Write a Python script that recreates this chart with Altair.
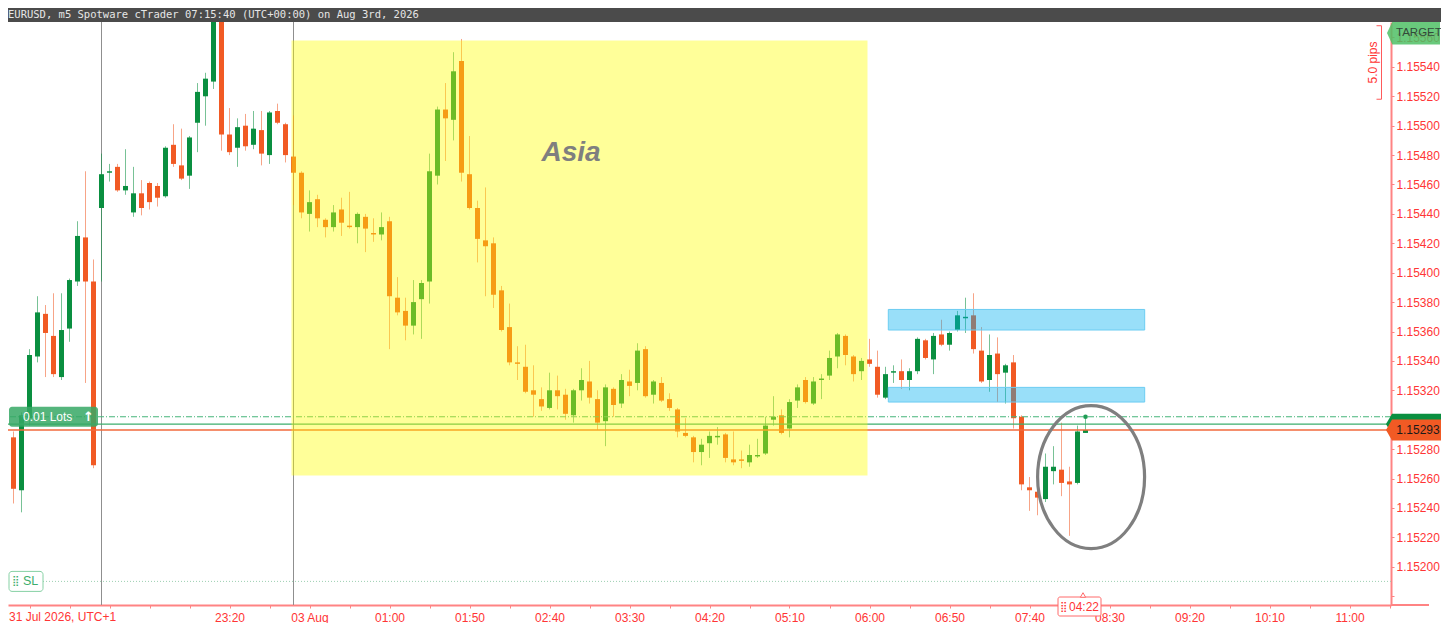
import altair as alt
import pandas as pd

# ---------------- data ----------------
OPEN = [1.15288, 1.15252, 1.15301, 1.15343, 1.15372, 1.15357, 1.15329, 1.15362, 1.15394, 1.15424,
        1.15394, 1.15444, 1.15468, 1.15472, 1.15456, 1.15441, 1.15454, 1.15461, 1.15459, 1.15452,
        1.15487, 1.15473, 1.15466, 1.15502, 1.15520, 1.15530, 1.15573, 1.15494, 1.15485, 1.15500,
        1.15487, 1.15497, 1.15480, 1.15510, 1.15501, 1.15479, 1.15468, 1.15440, 1.15450, 1.15436,
        1.15431, 1.15443, 1.15432, 1.15431, 1.15438, 1.15427, 1.15426, 1.15435, 1.15383, 1.15374,
        1.15364, 1.15382, 1.15394, 1.15466, 1.15511, 1.15504, 1.15544, 1.15467, 1.15444, 1.15422,
        1.15420, 1.15388, 1.15363, 1.15339, 1.15336, 1.15320, 1.15314, 1.15308, 1.15320, 1.15317,
        1.15303, 1.15320, 1.15326, 1.15314, 1.15299, 1.15321, 1.15311, 1.15326, 1.15325, 1.15348,
        1.15317, 1.15325, 1.15314, 1.15307, 1.15291, 1.15288, 1.15278, 1.15284, 1.15288, 1.15290,
        1.15273, 1.15273, 1.15271, 1.15275, 1.15277, 1.15300, 1.15303, 1.15294, 1.15313, 1.15327,
        1.15311, 1.15327, 1.15330, 1.15343, 1.15357, 1.15343, 1.15333, 1.15341, 1.15336, 1.15315,
        1.15332, 1.15333, 1.15327, 1.15333, 1.15354, 1.15341, 1.15358, 1.15351, 1.15361, 1.15369,
        1.15371, 1.15347, 1.15327, 1.15345, 1.15332, 1.15339, 1.15302, 1.15254, 1.15251, 1.15246,
        1.15265, 1.15266, 1.15258, 1.15257, 1.15291]
HIGH = [1.15292, 1.15305, 1.15348, 1.15384, 1.15378, 1.15386, 1.15386, 1.15396, 1.15435, 1.15469,
        1.15409, 1.15481, 1.15474, 1.15474, 1.15484, 1.15472, 1.15463, 1.15462, 1.15461, 1.15486,
        1.15501, 1.15498, 1.15493, 1.15529, 1.15536, 1.15580, 1.15576, 1.15512, 1.15505, 1.15508,
        1.15510, 1.15510, 1.15510, 1.15515, 1.15502, 1.15507, 1.15469, 1.15456, 1.15453, 1.15437,
        1.15446, 1.15451, 1.15455, 1.15441, 1.15440, 1.15437, 1.15441, 1.15438, 1.15397, 1.15383,
        1.15395, 1.15395, 1.15481, 1.15513, 1.15529, 1.15550, 1.15559, 1.15493, 1.15449, 1.15458,
        1.15424, 1.15391, 1.15379, 1.15350, 1.15351, 1.15337, 1.15322, 1.15332, 1.15330, 1.15321,
        1.15321, 1.15335, 1.15340, 1.15320, 1.15324, 1.15322, 1.15331, 1.15334, 1.15352, 1.15350,
        1.15327, 1.15329, 1.15318, 1.15308, 1.15301, 1.15289, 1.15287, 1.15292, 1.15295, 1.15291,
        1.15292, 1.15279, 1.15283, 1.15287, 1.15302, 1.15316, 1.15307, 1.15314, 1.15324, 1.15329,
        1.15329, 1.15331, 1.15347, 1.15359, 1.15358, 1.15344, 1.15342, 1.15355, 1.15347, 1.15336,
        1.15337, 1.15341, 1.15335, 1.15356, 1.15355, 1.15359, 1.15368, 1.15360, 1.15374, 1.15383,
        1.15386, 1.15363, 1.15358, 1.15356, 1.15338, 1.15344, 1.15303, 1.15261, 1.15259, 1.15277,
        1.15282, 1.15298, 1.15268, 1.15296, 1.15303]
LOW = [1.15243, 1.15237, 1.15296, 1.15339, 1.15329, 1.15329, 1.15327, 1.15353, 1.15391, 1.15325,
       1.15267, 1.15394, 1.15462, 1.15455, 1.15453, 1.15438, 1.15439, 1.15443, 1.15445, 1.15451,
       1.15472, 1.15463, 1.15457, 1.15482, 1.15500, 1.15525, 1.15483, 1.15480, 1.15472, 1.15483,
       1.15484, 1.15473, 1.15474, 1.15501, 1.15475, 1.15446, 1.15437, 1.15428, 1.15431, 1.15424,
       1.15428, 1.15425, 1.15430, 1.15420, 1.15414, 1.15421, 1.15422, 1.15348, 1.15371, 1.15354,
       1.15358, 1.15355, 1.15379, 1.15460, 1.15476, 1.15490, 1.15462, 1.15443, 1.15407, 1.15384,
       1.15376, 1.15360, 1.15337, 1.15327, 1.15318, 1.15302, 1.15306, 1.15307, 1.15307, 1.15300,
       1.15298, 1.15313, 1.15311, 1.15293, 1.15282, 1.15302, 1.15308, 1.15316, 1.15320, 1.15315,
       1.15311, 1.15312, 1.15306, 1.15288, 1.15288, 1.15271, 1.15269, 1.15274, 1.15283, 1.15271,
       1.15269, 1.15267, 1.15268, 1.15274, 1.15276, 1.15296, 1.15290, 1.15288, 1.15308, 1.15311,
       1.15310, 1.15314, 1.15327, 1.15335, 1.15337, 1.15326, 1.15327, 1.15336, 1.15315, 1.15314,
       1.15325, 1.15321, 1.15320, 1.15331, 1.15341, 1.15331, 1.15350, 1.15347, 1.15360, 1.15359,
       1.15345, 1.15325, 1.15319, 1.15312, 1.15311, 1.15294, 1.15252, 1.15238, 1.15235, 1.15244,
       1.15256, 1.15248, 1.15221, 1.15256, 1.15291]
CLOSE = [1.15253, 1.15303, 1.15344, 1.15373, 1.15359, 1.15331, 1.15361, 1.15395, 1.15425, 1.15394,
         1.15269, 1.15467, 1.15469, 1.15456, 1.15459, 1.15454, 1.15444, 1.15448, 1.15451, 1.15485,
         1.15474, 1.15464, 1.15492, 1.15523, 1.15532, 1.15575, 1.15494, 1.15482, 1.15499, 1.15486,
         1.15498, 1.15481, 1.15509, 1.15502, 1.15480, 1.15468, 1.15441, 1.15448, 1.15437, 1.15431,
         1.15441, 1.15434, 1.15431, 1.15440, 1.15430, 1.15426, 1.15431, 1.15384, 1.15373, 1.15364,
         1.15380, 1.15393, 1.15469, 1.15511, 1.15505, 1.15537, 1.15468, 1.15444, 1.15423, 1.15418,
         1.15385, 1.15361, 1.15339, 1.15338, 1.15319, 1.15317, 1.15309, 1.15320, 1.15316, 1.15304,
         1.15320, 1.15327, 1.15315, 1.15298, 1.15322, 1.15310, 1.15327, 1.15323, 1.15347, 1.15316,
         1.15326, 1.15313, 1.15308, 1.15292, 1.15289, 1.15278, 1.15283, 1.15289, 1.15289, 1.15274,
         1.15271, 1.15272, 1.15276, 1.15276, 1.15296, 1.15302, 1.15291, 1.15312, 1.15322, 1.15312,
         1.15326, 1.15328, 1.15342, 1.15358, 1.15344, 1.15331, 1.15340, 1.15338, 1.15317, 1.15331,
         1.15333, 1.15327, 1.15333, 1.15355, 1.15342, 1.15357, 1.15351, 1.15359, 1.15371, 1.15370,
         1.15348, 1.15326, 1.15344, 1.15331, 1.15337, 1.15301, 1.15256, 1.15252, 1.15247, 1.15268,
         1.15268, 1.15257, 1.15256, 1.15292, 1.15293]

TICK_BARS = list(range(2, 173, 5))
LABEL_BARS = [27, 37, 47, 57, 67, 77, 87, 97, 107, 117, 127, 137, 147, 157, 167]
LABEL_TEXT = ["23:20", "03 Aug", "01:00", "01:50", "02:40", "03:30", "04:20", "05:10",
              "06:00", "06:50", "07:40", "08:30", "09:20", "10:10", "11:00"]
FIRST_LABEL = "31 Jul 2026, UTC+1"
PRICE_TICKS = [round(1.1518 + 0.0002 * i, 5) for i in range(20)]
SEPARATOR_BARS = [11, 35]

TITLE = "EURUSD, m5 Spotware cTrader 07:15:40 (UTC+00:00) on Aug 3rd, 2026"
BID = 1.15293
ASK = 1.15302
ENTRY = 1.15297
SL_PRICE = 1.15190
TARGET_PRICE = 1.15563
PIPS_TOP, PIPS_BOTTOM = 1.15568, 1.15518
CURRENT_BAR = 134
ASIA = {"x0": 34.75, "x1": 106.75, "top": 1.15558, "bottom": 1.15262}
ZONES = [{"x0": 109.35, "x1": 141.4, "top": 1.15375, "bottom": 1.15361},
         {"x0": 109.35, "x1": 141.4, "top": 1.15322, "bottom": 1.15312}]
ELLIPSE_CENTER = (134.7, 1.15261)

# ---------------- styling ----------------
W, H = 1383, 583
GREEN = "#0A8F40"
RED = "#F15A24"
AXC = "#FF8383"
LBL = "#FF3535"
FONT = "Liberation Sans"

XS = alt.Scale(domain=[-0.6875, 172.1875], nice=False, zero=False, padding=0)
YS = alt.Scale(domain=[1.1517395, 1.1557054], nice=False, zero=False, padding=0)
CS = alt.Scale(domain=["up", "down"], range=[GREEN, RED])

lab_expr = "''"
for kk, tt in reversed(list(zip(LABEL_BARS, LABEL_TEXT))):
    lab_expr = f"datum.value == {kk} ? '{tt}' : ({lab_expr})"

XAXIS = alt.Axis(values=TICK_BARS, labelExpr=lab_expr, title=None, grid=False,
                 domainColor=AXC, domainWidth=2, tickColor=AXC, tickSize=3,
                 labelColor=LBL, labelFont=FONT, labelFontSize=12, labelPadding=4,
                 labelOverlap=False, labelFlush=False)
# the 1.15180 label sits under the time axis and 1.15300 under the bid tag: ticks only
YAXIS = alt.Axis(orient="right", values=PRICE_TICKS, title=None, grid=False,
                 labelExpr="(datum.value < 1.1519 || abs(datum.value - 1.153) < 0.00001) ? '' : format(datum.value, '.5f')",
                 domainColor=AXC, domainWidth=2, tickColor=AXC, tickSize=3,
                 labelColor=LBL, labelFont=FONT, labelFontSize=12, labelPadding=2,
                 labelOverlap=False, labelFlush=False)

n = len(OPEN)
df = pd.DataFrame({"k": list(range(n)), "open": OPEN, "high": HIGH, "low": LOW, "close": CLOSE})
df["dir"] = ["up" if c >= o else "down" for o, c in zip(OPEN, CLOSE)]

one = pd.DataFrame({"v": [0]})


def X(f):
    return alt.X(f, scale=XS, axis=XAXIS, title=None)


def Y(f):
    return alt.Y(f, scale=YS, axis=YAXIS, title=None)


def XD(v):
    return alt.XDatum(v, scale=XS, axis=XAXIS, title=None)


def YD(v):
    return alt.YDatum(v, scale=YS, axis=YAXIS, title=None)


layers = []

# day / session separators
layers.append(alt.Chart(pd.DataFrame({"k": SEPARATOR_BARS})).mark_rule(color="#8f8f8f", strokeWidth=1)
              .encode(x=X("k:Q")))

# wicks
layers.append(alt.Chart(df).mark_rule(strokeWidth=1, opacity=0.55, clip=True).encode(
    x=X("k:Q"), y=Y("low:Q"), y2="high:Q",
    color=alt.Color("dir:N", scale=CS, legend=None)))

# bodies
layers.append(alt.Chart(df).mark_bar(size=5, clip=True).encode(
    x=X("k:Q"), y=Y("open:Q"), y2="close:Q",
    color=alt.Color("dir:N", scale=CS, legend=None)))

# price lines
lines = pd.DataFrame({"p": [ASK, ENTRY, BID, SL_PRICE], "name": ["ask", "entry", "bid", "sl"]})
layers.append(alt.Chart(lines[lines.name == "ask"]).mark_rule(color="#46B57A", strokeWidth=1, strokeDash=[6, 2, 1, 2])
              .encode(y=Y("p:Q")))
layers.append(alt.Chart(lines[lines.name == "entry"]).mark_rule(color="#3DAE6C", strokeWidth=1.3)
              .encode(y=Y("p:Q")))
layers.append(alt.Chart(lines[lines.name == "bid"]).mark_rule(color="#F26A3C", strokeWidth=1.3)
              .encode(y=Y("p:Q")))
layers.append(alt.Chart(lines[lines.name == "sl"]).mark_rule(color="#9CCFB1", strokeWidth=1, strokeDash=[1, 2])
              .encode(y=Y("p:Q")))

# Asia session box
layers.append(alt.Chart(pd.DataFrame([ASIA])).mark_rect(color="#FFFF00", opacity=0.4).encode(
    x=X("x0:Q"), x2="x1:Q", y=Y("top:Q"), y2="bottom:Q"))
layers.append(alt.Chart(one).mark_text(text="Asia", font=FONT, fontSize=28, fontWeight="bold",
                                       fontStyle="italic", color="#7F7F7F")
              .encode(x=XD(69.7), y=YD(1.154814)))

# blue zones
layers.append(alt.Chart(pd.DataFrame(ZONES)).mark_rect(fill="#00AEEF", fillOpacity=0.4, stroke="#6CCDF2",
                                                      strokeWidth=1).encode(
    x=X("x0:Q"), x2="x1:Q", y=Y("top:Q"), y2="bottom:Q"))

# ellipse
ELL = "M -0.748 0 A 0.748 1 0 1 0 0.748 0 A 0.748 1 0 1 0 -0.748 0 Z"
layers.append(alt.Chart(one).mark_point(shape=ELL, size=20449, filled=False, color="#7F7F7F",
                                        strokeWidth=3.2, opacity=1)
              .encode(x=XD(ELLIPSE_CENTER[0]), y=YD(ELLIPSE_CENTER[1])))

# ask dot on current bar
layers.append(alt.Chart(one).mark_point(filled=True, size=22, color="#1F9D55", opacity=1)
              .encode(x=XD(CURRENT_BAR), y=YD(ASK)))

# "0.01 Lots" position label
layers.append(alt.Chart(one).mark_rect(color="#36A865", opacity=0.85, cornerRadius=3,
                                       yOffset=-10, y2Offset=10)
              .encode(x=alt.value(1), x2=alt.value(90), y=YD(ASK), y2=alt.Y2Datum(ASK)))
layers.append(alt.Chart(one).mark_text(text="0.01 Lots", align="left", font=FONT, fontSize=12,
                                       color="white")
              .encode(x=alt.value(15), y=YD(ASK)))
layers.append(alt.Chart(one).mark_text(text="↑", align="left", font="DejaVu Sans", fontSize=13,
                                       fontWeight="bold", color="white")
              .encode(x=alt.value(75), y=YD(ASK)))

# SL label
layers.append(alt.Chart(one).mark_rect(fill="white", stroke="#86D1A4", strokeWidth=1, cornerRadius=3,
                                       yOffset=-10, y2Offset=10)
              .encode(x=alt.value(1), x2=alt.value(35), y=YD(SL_PRICE), y2=alt.Y2Datum(SL_PRICE)))
layers.append(alt.Chart(one).mark_text(text="⣿", align="left", font="DejaVu Sans", fontSize=10,
                                       color="#3DAE6C")
              .encode(x=alt.value(4), y=YD(SL_PRICE)))
layers.append(alt.Chart(one).mark_text(text="SL", align="left", font=FONT, fontSize=12.5,
                                       color="#3DAE6C")
              .encode(x=alt.value(15), y=YD(SL_PRICE)))

# time axis line continues under the price scale
layers.append(alt.Chart(one).mark_rule(color=AXC, strokeWidth=2)
              .encode(x=alt.value(W), x2=alt.value(W + 38), y=alt.value(H)))

# right axis tags
TAG = "M -1 0 L -0.78 -0.38 L 1 -0.38 L 1 0.38 L -0.78 0.38 Z"
layers.append(alt.Chart(one).mark_point(shape=TAG, size=3025, filled=True, color="#0A8F40", opacity=1,
                                        strokeWidth=0)
              .encode(x=alt.value(1405.5), y=YD(ENTRY)))
layers.append(alt.Chart(one).mark_point(shape=TAG, size=3025, filled=True, color="#F15A24", opacity=1,
                                        strokeWidth=0)
              .encode(x=alt.value(1405.5), y=YD(BID)))
layers.append(alt.Chart(one).mark_text(text=f"{BID:.5f}", align="center", font=FONT, fontSize=12,
                                       color="#1A1A1A")
              .encode(x=alt.value(1410), y=YD(BID)))

TAG2 = "M -1 0 L -0.8 -0.43 L 1 -0.43 L 1 0.43 L -0.8 0.43 Z"
layers.append(alt.Chart(one).mark_point(shape=TAG2, size=2809, filled=True, color="#4FBF65", opacity=0.85,
                                        strokeWidth=0)
              .encode(x=alt.value(1405.5), y=YD(TARGET_PRICE)))
layers.append(alt.Chart(one).mark_text(text="TARGET", align="left", font=FONT, fontSize=11.5,
                                       color="#33493A")
              .encode(x=alt.value(1388), y=YD(TARGET_PRICE)))

# 5.0 pips bracket
layers.append(alt.Chart(one).mark_rule(color="#FF5A5A", strokeWidth=1)
              .encode(x=alt.value(1373.5), y=YD(PIPS_TOP), y2=alt.Y2Datum(PIPS_BOTTOM)))
layers.append(alt.Chart(pd.DataFrame({"p": [PIPS_TOP, PIPS_BOTTOM]})).mark_rule(color="#FF5A5A", strokeWidth=1)
              .encode(x=alt.value(1368.5), x2=alt.value(1373.5), y=Y("p:Q")))
layers.append(alt.Chart(one).mark_text(text="5.0 pips", angle=270, font=FONT, fontSize=12, color=LBL)
              .encode(x=alt.value(1365), y=YD((PIPS_TOP + PIPS_BOTTOM) / 2)))

# countdown tag on time axis
layers.append(alt.Chart(one).mark_rect(fill="white", stroke="#FF6B6B", strokeWidth=1, cornerRadius=2)
              .encode(x=alt.value(1050), x2=alt.value(1093), y=alt.value(575), y2=alt.value(594)))
layers.append(alt.Chart(one).mark_point(shape="triangle-up", size=28, filled=True, color="white",
                                        stroke="#FF6B6B", strokeWidth=1, opacity=1)
              .encode(x=alt.value(1075), y=alt.value(573)))
layers.append(alt.Chart(one).mark_text(text="⣿", align="left", font="DejaVu Sans", fontSize=10, color=LBL)
              .encode(x=alt.value(1052), y=alt.value(584.5)))
layers.append(alt.Chart(one).mark_text(text="04:22", align="left", font=FONT, fontSize=12, color=LBL)
              .encode(x=alt.value(1061), y=alt.value(584.5)))

# first (date) time label
layers.append(alt.Chart(one).mark_text(text=FIRST_LABEL, align="left", baseline="top", font=FONT,
                                       fontSize=12, color=LBL)
              .encode(x=alt.value(1), y=alt.value(H + 7)))

# title bar
layers.append(alt.Chart(one).mark_rect(color="#4B4B4B")
              .encode(x=alt.value(0), x2=alt.value(W + 50), y=alt.value(-14), y2=alt.value(0)))
layers.append(alt.Chart(one).mark_text(text=TITLE, align="left", baseline="middle", font="DejaVu Sans Mono",
                                       fontSize=10.5, color="#E6E6E6")
              .encode(x=alt.value(0), y=alt.value(-7)))

chart = alt.layer(*layers).properties(
    width=W, height=H,
    padding={"left": 0, "top": 14, "right": 50, "bottom": 18},
    autosize=alt.AutoSizeParams(type="none"),
    background="white",
).configure_view(stroke=None, fill="white")

chart.save("out.html", embed_options={"renderer": "svg", "actions": False})
